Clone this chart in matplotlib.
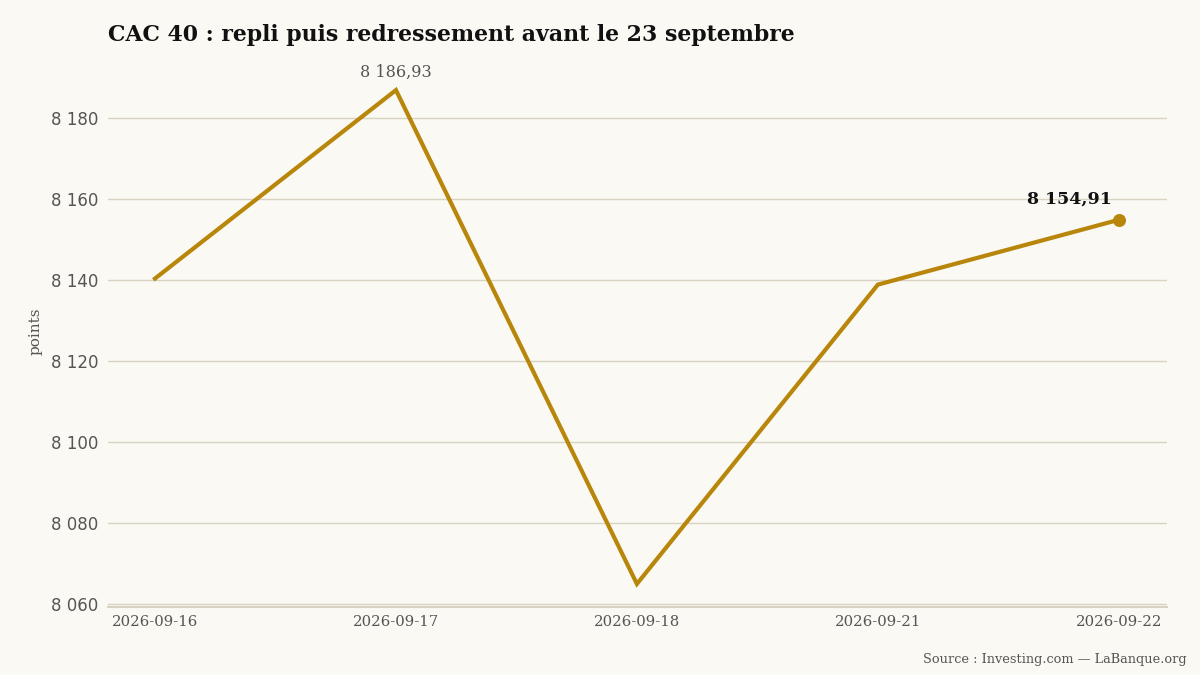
import matplotlib.pyplot as plt
from matplotlib.ticker import FuncFormatter

dates = ["2026-09-16", "2026-09-17", "2026-09-18", "2026-09-21", "2026-09-22"]
values = [8140.4, 8186.93, 8065.0, 8138.9, 8154.91]
yticks = [8060, 8080, 8100, 8120, 8140, 8160, 8180]

bg = "#fbf9f3"
gold = "#b8860b"
grid = "#d8d2c2"
serif = ["DejaVu Serif"]

fig = plt.figure(figsize=(12, 6.75), dpi=100, facecolor=bg)
ax = fig.add_axes([108/1200, 1 - 607/675, (1167-108)/1200, (607-55)/675])
ax.set_facecolor(bg)

x = list(range(len(dates)))
ax.plot(x, values, color=gold, lw=3, solid_joinstyle="miter", zorder=3)
ax.scatter([x[-1]], [values[-1]], s=70, color=gold, zorder=4)

ax.set_xlim(-0.195, 4.2)
ax.set_ylim(8059.3, 8195.6)
ax.set_yticks(yticks)
ax.yaxis.set_major_formatter(FuncFormatter(lambda v, p: f"{int(v):,}".replace(",", " ")))
ax.grid(axis="y", color=grid, lw=1)
ax.set_axisbelow(True)
for s in ["top", "right", "left"]:
    ax.spines[s].set_visible(False)
ax.spines["bottom"].set_color(grid)
ax.spines["bottom"].set_linewidth(1.5)

ax.set_xticks(x)
ax.set_xticklabels(dates, fontfamily=serif, fontsize=10.7, color="#555555")
ax.tick_params(axis="x", length=0, pad=6)
ax.tick_params(axis="y", length=0, pad=7, labelsize=12, labelcolor="#555555")

ax.set_ylabel("points", fontfamily=serif, fontsize=11, color="#555555", labelpad=6)

i = values.index(max(values))
ax.annotate(f"{values[i]:.2f}".replace(".", ",").replace("8186", "8 186"), (x[i], values[i]),
            xytext=(0, 7), textcoords="offset points", ha="center", va="bottom",
            fontfamily=serif, fontsize=11.5, color="#555555")
ax.annotate(f"{values[-1]:.2f}".replace(".", ",").replace("8154", "8 154"), (x[-1], values[-1]),
            xytext=(-5, 9), textcoords="offset points", ha="right", va="bottom",
            fontfamily=serif, fontsize=12.5, fontweight="bold", color="#111111")

fig.text(108/1200, 1 - 35/675, "CAC 40 : repli puis redressement avant le 23 septembre",
         fontfamily=serif, fontsize=15.8, fontweight="bold", color="#111111", va="center", ha="left")
fig.text(1187/1200, 1 - 660/675, "Source : Investing.com — LaBanque.org",
         fontfamily=serif, fontsize=9.3, color="#555555", va="center", ha="right")

fig.savefig("out.png", dpi=100, facecolor=bg)
